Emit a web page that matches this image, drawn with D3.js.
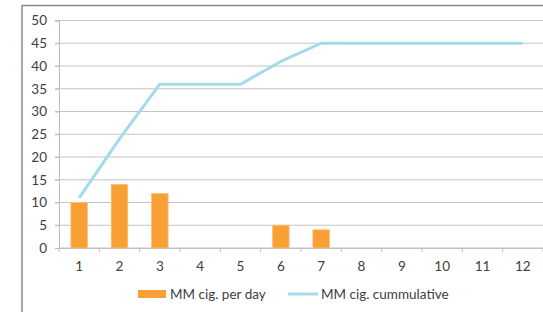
<!DOCTYPE html>
<html><head><meta charset="utf-8">
<script src="https://cdn.jsdelivr.net/npm/d3@7"></script>
<style>body{margin:0;background:#fff}svg{display:block}text{font-family:Lato,"Open Sans",sans-serif;fill:#404040}</style>
</head><body>
<svg id="c" width="543" height="312"></svg>
<script>
const categories = [1,2,3,4,5,6,7,8,9,10,11,12];
const perDay = [10,14,12,0,0,5,4,0,0,0,0,0];
const cumulative = [11,24,36,36,36,41,45,45,45,45,45,45];
const yTicks = [0,5,10,15,20,25,30,35,40,45,50];
const seriesNames = ["MM cig. per day","MM cig. cummulative"];

const svg = d3.select("#c");
const L = 59, R = 543, T = 20.5, B = 248;
const xb = d3.scaleBand().domain(categories).range([L, R]);
const y = d3.scaleLinear().domain([0,50]).range([B, T]);

// chart border
svg.append("rect").attr("x",22).attr("y",5.5).attr("width",600).attr("height",400)
  .attr("fill","none").attr("stroke","#8a8a8a").attr("stroke-width",1.5);

// gridlines
svg.append("g").selectAll("line").data(yTicks.filter(d=>d>0)).join("line")
  .attr("x1",L-4).attr("x2",R).attr("y1",d=>y(d)).attr("y2",d=>y(d))
  .attr("stroke","#c4c4c4").attr("stroke-width",1.2);

// y axis
const ya = svg.append("g").attr("transform",`translate(${L},0)`)
  .call(d3.axisLeft(y).tickValues(yTicks).tickSize(4).tickPadding(8));
ya.select(".domain").attr("stroke","#bdbdbd");
ya.selectAll(".tick line").attr("stroke","#bdbdbd");
ya.selectAll("text").attr("font-size",13.5).attr("font-family","Lato").attr("fill","#404040");

// x axis
const xa = svg.append("g").attr("transform",`translate(0,${B})`)
  .call(d3.axisBottom(xb).tickSize(0).tickPadding(13));
xa.select(".domain").attr("stroke","#bdbdbd");
xa.selectAll("text").attr("font-size",13.5).attr("font-family","Lato").attr("fill","#404040");
svg.append("g").selectAll("line").data(d3.range(categories.length+1)).join("line")
  .attr("x1",i=>L+i*xb.step()).attr("x2",i=>L+i*xb.step()).attr("y1",B).attr("y2",B+4)
  .attr("stroke","#bdbdbd");
svg.append("line").attr("x1",L).attr("x2",R).attr("y1",B).attr("y2",B).attr("stroke","#c4c4c4").attr("stroke-width",1.2);

// bars
svg.append("g").selectAll("rect").data(perDay.map((v,i)=>({c:categories[i],v})).filter(d=>d.v>0)).join("rect")
  .attr("x",d=>xb(d.c)+xb.bandwidth()/2-8.3).attr("width",16.6)
  .attr("y",d=>y(d.v)).attr("height",d=>B-y(d.v))
  .attr("fill","#f9a035").attr("stroke","#fbc182").attr("stroke-width",0.8);

// line
const line = d3.line().x((d,i)=>xb(categories[i])+xb.bandwidth()/2).y(d=>y(d));
svg.append("path").datum(cumulative).attr("d",line)
  .attr("fill","none").attr("stroke","#a3dbe8").attr("stroke-width",3).attr("stroke-linejoin","round");

// legend
const lg = svg.append("g");
lg.append("rect").attr("x",138).attr("y",290).attr("width",28).attr("height",8).attr("fill","#f9a035");
lg.append("text").attr("x",170).attr("y",298.5).attr("font-size",13.5).text(seriesNames[0]);
lg.append("line").attr("x1",288).attr("x2",318).attr("y1",294).attr("y2",294).attr("stroke","#a3dbe8").attr("stroke-width",3);
lg.append("text").attr("x",321).attr("y",298.5).attr("font-size",13.5).text(seriesNames[1]);
</script>
</body></html>
